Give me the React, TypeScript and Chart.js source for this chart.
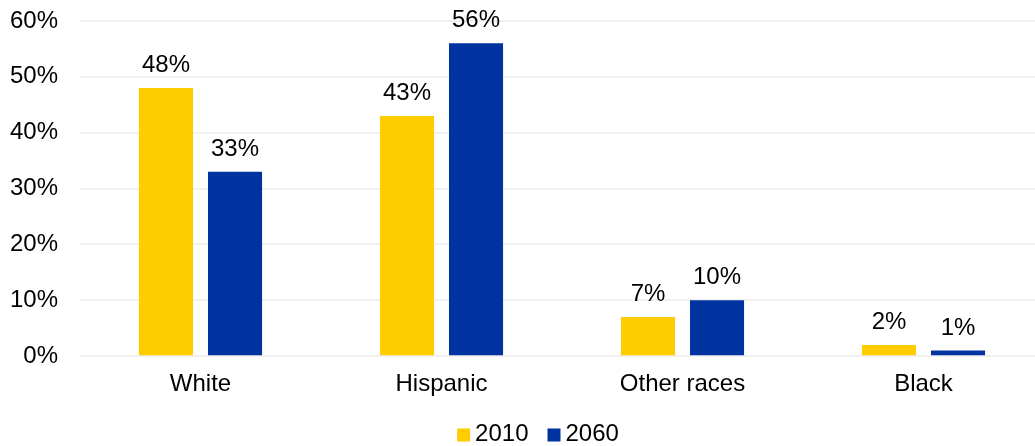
import React, { useEffect, useRef } from "react";
import { Chart, registerables } from "chart.js";

Chart.register(...registerables);

const categories = ["White", "Hispanic", "Other races", "Black"];
const series2010 = [48, 43, 7, 2];
const series2060 = [33, 56, 10, 1];
const seriesNames = ["2010", "2060"];
const seriesColors = ["#FFCC00", "#0033A0"];
const yTicks = [0, 10, 20, 30, 40, 50, 60];

const FONT = "'Liberation Sans', Arial, sans-serif";

const valueLabels = {
  id: "valueLabels",
  afterDatasetsDraw(chart: any) {
    const ctx = chart.ctx;
    ctx.save();
    ctx.font = `24px ${FONT}`;
    ctx.fillStyle = "#000000";
    ctx.textAlign = "center";
    ctx.textBaseline = "alphabetic";
    chart.data.datasets.forEach((ds: any, i: number) => {
      const meta = chart.getDatasetMeta(i);
      meta.data.forEach((bar: any, j: number) => {
        ctx.fillText(`${ds.data[j]}%`, bar.x, bar.y - 16);
      });
    });
    ctx.restore();
  },
};

const customLegend = {
  id: "customLegend",
  afterDraw(chart: any) {
    const ctx = chart.ctx;
    ctx.save();
    ctx.font = `24px ${FONT}`;
    ctx.textBaseline = "middle";
    ctx.textAlign = "left";
    const box = 13;
    const gapText = 5;
    const gapItem = 19;
    const items = chart.data.datasets.map((ds: any) => ({
      label: ds.label,
      color: ds.backgroundColor,
      w: box + gapText + ctx.measureText(ds.label).width,
    }));
    const total =
      items.reduce((s: number, it: any) => s + it.w, 0) + gapItem * (items.length - 1);
    const cx = chart.width / 2 + 16;
    let x = cx - total / 2;
    const y = chart.height - 12;
    items.forEach((it: any) => {
      ctx.fillStyle = it.color;
      ctx.fillRect(x, y - box / 2 + 1, box, box);
      ctx.fillStyle = "#000";
      ctx.fillText(it.label, x + box + gapText, y);
      x += it.w + gapItem;
    });
    ctx.restore();
  },
};

export default function App() {
  const ref = useRef<HTMLCanvasElement>(null);
  useEffect(() => {
    document.body.style.margin = "0";
    document.body.style.overflow = "hidden";
    const chart = new Chart(ref.current!, {
      type: "bar",
      data: {
        labels: categories,
        datasets: [
          { label: seriesNames[0], data: series2010, backgroundColor: seriesColors[0] },
          { label: seriesNames[1], data: series2060, backgroundColor: seriesColors[1] },
        ],
      },
      options: {
        animation: false,
        responsive: true,
        maintainAspectRatio: false,
        layout: { padding: { top: 0, right: 0, left: 10, bottom: 33 } },
        datasets: { bar: { categoryPercentage: 0.573, barPercentage: 0.783 } } as any,
        scales: {
          x: {
            grid: { display: false, drawTicks: false },
            border: { display: false },
            ticks: { color: "#000", font: { family: FONT, size: 24 }, padding: 14 },
          },
          y: {
            min: 0,
            max: 60,
            afterBuildTicks: (axis: any) => {
              axis.ticks = yTicks.map((v) => ({ value: v }));
            },
            afterFit: (axis: any) => {
              axis.width = 70;
              axis.paddingTop = 21;
            },
            grid: { color: "#f0f0f0", lineWidth: 2, drawTicks: false },
            border: { display: false },
            ticks: {
              color: "#000",
              font: { family: FONT, size: 24 },
              padding: 22,
              callback: (v: any) => `${v}%`,
            },
          },
        },
        plugins: {
          legend: { display: false },
          tooltip: { enabled: false },
        },
      },
      plugins: [valueLabels, customLegend],
    });
    return () => chart.destroy();
  }, []);
  return (
    <div style={{ width: 1035, height: 446, overflow: "hidden" }}>
      <div style={{ position: "relative", width: 1044, height: 446 }}>
        <canvas ref={ref} />
      </div>
    </div>
  );
}
